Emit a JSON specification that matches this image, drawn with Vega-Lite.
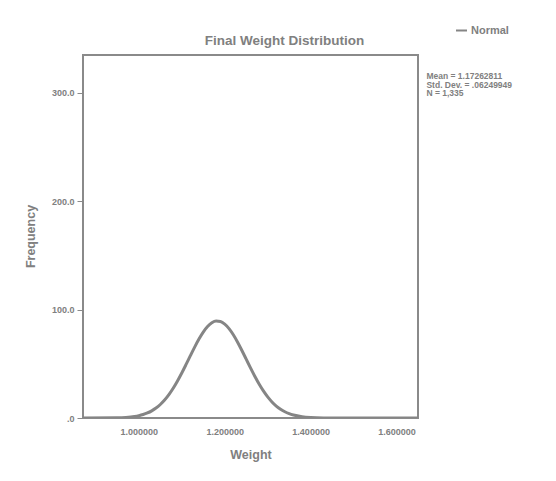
{
  "$schema": "https://vega.github.io/schema/vega-lite/v6.json",
  "width": 335,
  "height": 363,
  "autosize": {"type": "none"},
  "padding": {"left": 83, "top": 55, "right": 138, "bottom": 63},
  "background": "white",
  "config": {
    "font": "Liberation Sans",
    "view": {"stroke": "#8a8a8a", "strokeWidth": 2},
    "axis": {"grid": false, "domain": false, "labelColor": "#808080", "titleColor": "#808080", "labelFontSize": 9, "labelFontWeight": "bold", "titleFontSize": 12.5, "titleFontWeight": "bold", "tickColor": "#8a8a8a"}
  },
  "title": {"text": "Final Weight Distribution", "fontSize": 13.5, "fontWeight": "bold", "color": "#808080", "anchor": "middle", "dx": 34, "dy": 31, "offset": 8},
  "data": {"values": [
    {"w": 0.87, "f": 0.0}, {"w": 0.95, "f": 0.21}, {"w": 0.97, "f": 0.57}, {"w": 0.99, "f": 1.41},
    {"w": 1.00, "f": 2.15}, {"w": 1.01, "f": 3.19}, {"w": 1.02, "f": 4.64}, {"w": 1.03, "f": 6.60},
    {"w": 1.04, "f": 9.17}, {"w": 1.05, "f": 12.48}, {"w": 1.06, "f": 16.59}, {"w": 1.07, "f": 21.59},
    {"w": 1.08, "f": 27.46}, {"w": 1.09, "f": 34.16}, {"w": 1.10, "f": 41.55}, {"w": 1.11, "f": 49.43},
    {"w": 1.12, "f": 57.52}, {"w": 1.13, "f": 65.45}, {"w": 1.14, "f": 72.85}, {"w": 1.15, "f": 79.28},
    {"w": 1.16, "f": 84.38}, {"w": 1.17, "f": 87.83}, {"w": 1.18, "f": 89.41}, {"w": 1.19, "f": 89.01},
    {"w": 1.20, "f": 86.66}, {"w": 1.21, "f": 82.52}, {"w": 1.22, "f": 76.85}, {"w": 1.23, "f": 69.98},
    {"w": 1.24, "f": 62.33}, {"w": 1.25, "f": 54.28}, {"w": 1.26, "f": 46.24}, {"w": 1.27, "f": 38.52},
    {"w": 1.28, "f": 31.38}, {"w": 1.29, "f": 25.01}, {"w": 1.30, "f": 19.48}, {"w": 1.31, "f": 14.84},
    {"w": 1.32, "f": 11.06}, {"w": 1.33, "f": 8.06}, {"w": 1.34, "f": 5.75}, {"w": 1.35, "f": 4.01},
    {"w": 1.36, "f": 2.73}, {"w": 1.38, "f": 1.19}, {"w": 1.40, "f": 0.47}, {"w": 1.43, "f": 0.10},
    {"w": 1.48, "f": 0.0}, {"w": 1.55, "f": 0.0}, {"w": 1.65, "f": 0.0}
  ]},
  "layer": [
    {
      "mark": {"type": "line", "strokeWidth": 3, "interpolate": "monotone", "clip": true},
      "encoding": {
        "x": {"field": "w", "type": "quantitative", "scale": {"domain": [0.87, 1.65], "nice": false, "zero": false},
          "axis": {"title": "Weight", "values": [1.0, 1.2, 1.4, 1.6], "format": ".6f", "ticks": false, "labelPadding": 9, "titlePadding": 12}},
        "y": {"field": "f", "type": "quantitative", "scale": {"domain": [0, 335], "nice": false},
          "axis": {"title": "Frequency", "values": [0, 100, 200, 300], "labelExpr": "datum.value == 0 ? '.0' : format(datum.value, '.1f')", "tickSize": 6, "labelPadding": 3, "titleX": -46, "titleY": 181}},
        "color": {"datum": "Normal", "type": "nominal", "scale": {"range": ["#858585"]},
          "legend": {"title": null, "orient": "none", "legendX": 372, "legendY": -31, "symbolType": "stroke", "symbolStrokeWidth": 2, "symbolSize": 120, "labelFontSize": 11, "labelFontWeight": "bold", "labelColor": "#808080", "labelOffset": 3}}
      }
    },
    {
      "data": {"values": [{"label": "stats"}]},
      "mark": {"type": "text", "align": "left", "baseline": "top", "fontSize": 8.5, "fontWeight": "bold", "color": "#808080", "lineHeight": 8.5, "clip": false, "dx": 2,
        "text": ["Mean = 1.17262811", "Std. Dev. = .06249949", "N = 1,335"]},
      "encoding": {
        "x": {"datum": 1.665, "type": "quantitative"},
        "y": {"datum": 319, "type": "quantitative"}
      }
    }
  ]
}
